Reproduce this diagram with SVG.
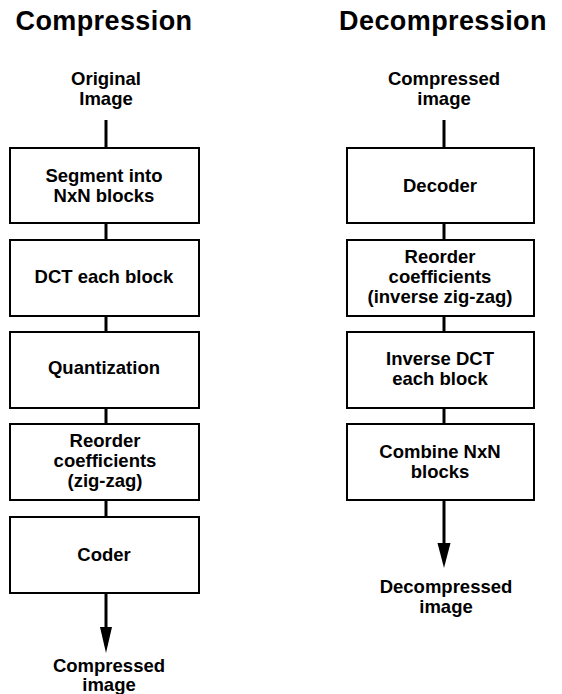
<svg xmlns="http://www.w3.org/2000/svg" width="562" height="694" viewBox="0 0 562 694">
  <style>
    .title { font-family: "Liberation Sans", Arial, Helvetica, sans-serif; font-weight: bold; font-size: 27px; text-anchor: middle; fill: #000; letter-spacing: 0.4px; }
    .label { font-family: "Liberation Sans", Arial, Helvetica, sans-serif; font-weight: bold; font-size: 18.5px; text-anchor: middle; fill: #000; }
    .box { fill: #fff; stroke: #000; stroke-width: 2; }
    .box-text { font-family: "Liberation Sans", Arial, Helvetica, sans-serif; font-weight: bold; font-size: 18.5px; text-anchor: middle; fill: #000; }
    .wire { stroke: #000; stroke-width: 3; fill: none; }
    .head { fill: #000; stroke: none; }
  </style>

  <!-- Column titles -->
  <text class="title" x="104" y="30">Compression</text>
  <text class="title" x="443" y="30">Decompression</text>

  <!-- Terminal labels -->
  <g id="label-original">
    <text class="label" x="106" y="85">Original</text>
    <text class="label" x="106" y="105">Image</text>
  </g>
  <g id="label-compressed-out">
    <text class="label" x="109" y="672">Compressed</text>
    <text class="label" x="109" y="691">image</text>
  </g>
  <g id="label-compressed-in">
    <text class="label" x="444" y="85">Compressed</text>
    <text class="label" x="444" y="105">image</text>
  </g>
  <g id="label-decompressed">
    <text class="label" x="446" y="593">Decompressed</text>
    <text class="label" x="446" y="613">image</text>
  </g>

  <!-- Connectors -->
  <g id="connectors">
    <line class="wire" x1="106" y1="120" x2="106" y2="148"/>
    <line class="wire" x1="106" y1="223" x2="106" y2="240"/>
    <line class="wire" x1="106" y1="316" x2="106" y2="332"/>
    <line class="wire" x1="106" y1="408" x2="106" y2="424"/>
    <line class="wire" x1="106" y1="500" x2="106" y2="517"/>
    <line class="wire" x1="106" y1="593" x2="106" y2="630"/>
    <polygon class="head" points="100,627 112,627 106,653"/>

    <line class="wire" x1="444" y1="120" x2="444" y2="148"/>
    <line class="wire" x1="444" y1="223" x2="444" y2="240"/>
    <line class="wire" x1="444" y1="316" x2="444" y2="332"/>
    <line class="wire" x1="444" y1="408" x2="444" y2="424"/>
    <line class="wire" x1="444" y1="500" x2="444" y2="546"/>
    <polygon class="head" points="437.5,543 450.5,543 444,568"/>
  </g>

  <!-- Compression pipeline -->
  <g id="segment">
    <rect class="box" x="10" y="148" width="189" height="75"/>
    <text class="box-text" x="104" y="182">Segment into</text>
    <text class="box-text" x="104" y="202">NxN blocks</text>
  </g>
  <g id="dct">
    <rect class="box" x="10" y="240" width="189" height="76"/>
    <text class="box-text" x="104" y="283">DCT each block</text>
  </g>
  <g id="quantization">
    <rect class="box" x="10" y="332" width="189" height="76"/>
    <text class="box-text" x="104" y="374">Quantization</text>
  </g>
  <g id="reorder">
    <rect class="box" x="10" y="424" width="189" height="76"/>
    <text class="box-text" x="105" y="447">Reorder</text>
    <text class="box-text" x="105" y="467">coefficients</text>
    <text class="box-text" x="105" y="487">(zig-zag)</text>
  </g>
  <g id="coder">
    <rect class="box" x="10" y="517" width="189" height="76"/>
    <text class="box-text" x="104" y="561">Coder</text>
  </g>

  <!-- Decompression pipeline -->
  <g id="decoder">
    <rect class="box" x="347" y="148" width="187" height="75"/>
    <text class="box-text" x="440" y="192">Decoder</text>
  </g>
  <g id="reorder-inverse">
    <rect class="box" x="347" y="240" width="187" height="76"/>
    <text class="box-text" x="440" y="263">Reorder</text>
    <text class="box-text" x="440" y="283">coefficients</text>
    <text class="box-text" x="440" y="303">(inverse zig-zag)</text>
  </g>
  <g id="idct">
    <rect class="box" x="347" y="332" width="187" height="76"/>
    <text class="box-text" x="440" y="365">Inverse DCT</text>
    <text class="box-text" x="440" y="385">each block</text>
  </g>
  <g id="combine">
    <rect class="box" x="347" y="424" width="187" height="76"/>
    <text class="box-text" x="440" y="458">Combine NxN</text>
    <text class="box-text" x="440" y="478">blocks</text>
  </g>
</svg>
